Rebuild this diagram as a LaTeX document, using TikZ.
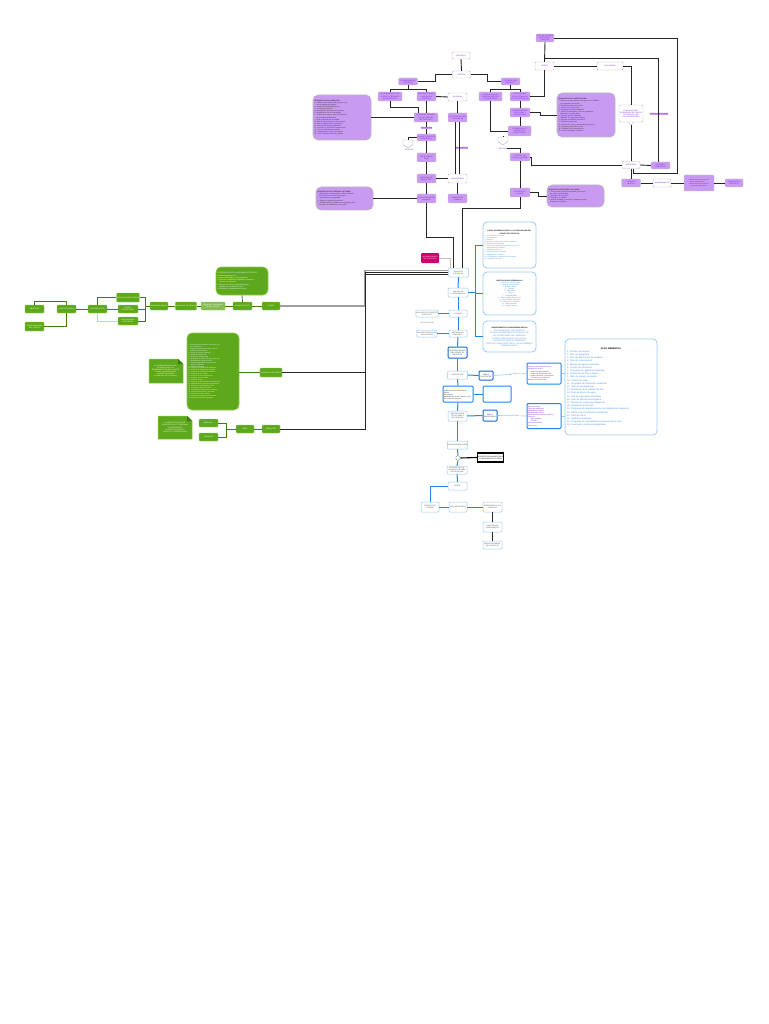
\documentclass[tikz,border=0pt]{standalone}
\usepackage{fontspec}
\setmainfont{Liberation Sans}
\usetikzlibrary{calc}
\definecolor{pfill}{HTML}{C99AF2}
\definecolor{ptext}{HTML}{7A1FD6}
\definecolor{gfill}{HTML}{5EA81C}
\definecolor{gbord}{HTML}{8CCB4E}
\definecolor{gline}{HTML}{3D7F0E}
\definecolor{blu}{HTML}{1E88F0}
\definecolor{lblu}{HTML}{9CCBF5}
\definecolor{dblu}{HTML}{1766D6}
\definecolor{mag}{HTML}{D0006A}
\definecolor{btext}{HTML}{4A90E2}
\newcommand{\fs}{\fontsize{1.7}{2.1}\selectfont}
\newcommand{\fss}{\fontsize{1.5}{1.95}\selectfont}
\newcommand{\fsb}{\fontsize{2.3}{3.2}\selectfont}
\newcommand{\bul}{\textbullet\ }
\tikzset{
  sz/.style 2 args={minimum width=#1pt,minimum height=#2pt},
  base/.style={inner sep=0.3pt,align=center,font=\fs,rounded corners=1pt},
  pb/.style={base,fill=pfill,draw=gray!45,line width=0.4pt,text=ptext},
  wb/.style={base,fill=white,draw=gray!55,line width=0.4pt,text=ptext},
  gb/.style={base,fill=gfill,draw=gbord,line width=0.4pt,text=white},
  bb/.style={base,fill=white,draw=lblu,line width=0.5pt,text=black!70},
  db/.style={base,fill=white,draw=dblu,line width=1pt,text=black!80},
  pn/.style={fill=pfill,draw=gray!55,line width=0.6pt,rounded corners=5pt,text=black!80,align=left,inner sep=1.5pt,font=\fs},
  gn/.style={fill=gfill,draw=gbord,line width=0.6pt,rounded corners=5pt,text=white,align=left,inner sep=1.5pt,font=\fs},
  bn/.style={fill=white,draw=lblu,line width=0.8pt,rounded corners=4pt,text=btext,align=left,inner sep=1.5pt,font=\fs},
  ln/.style={black!85,line width=0.9pt},
  gl/.style={gline,line width=0.8pt},
  bl/.style={blu,line width=1pt},
  lbl/.style={lblu,line width=0.6pt},
  lab/.style={font=\fs,text=ptext,inner sep=0.2pt}
}
\begin{document}
\begin{tikzpicture}[x=1pt,y=-1pt]
\useasboundingbox[fill=white] (0,0) rectangle (768,1024);

% ---------------- purple region ----------------
\node[wb,sz={18}{7}] (t1) at (461,55.5) {PROYECTO};
\node[wb,sz={18}{7}] (t2) at (461.5,74.5) {GESTIÓN};
\node[pb,sz={19}{7}] (L1) at (408,81.5) {PLANEACIÓN DEL\\PROYECTO};
\node[pb,sz={19}{7}] (R1) at (510.5,81.5) {EJECUCIÓN DEL\\PROYECTO};
\node[pb,sz={24}{9}] (L2a) at (390,96.5) {REQUERIMIENTOS DEL\\CLIENTE Y TÉRMINOS\\DE REFERENCIA};
\node[pb,sz={19}{9}] (L2b) at (426.5,96.5) {ESTUDIOS PREVIOS\\Y DISEÑO DEL\\PROYECTO};
\node[wb,sz={19}{8}] (M1) at (457.5,97) {LICITACIÓN};
\node[pb,sz={24}{9}] (L3) at (426,117.5) {PROGRAMA GENERAL\\DE ACTIVIDADES\\DEL PROYECTO};
\node[pb,sz={19}{9}] (M2) at (457.5,117.5) {CONTRATO DE OBRA\\Y GARANTÍAS};
\node[lab,fill=pfill] (lb1) at (426.5,128) {APROBACIÓN};
\node[pb,sz={19}{7}] (L4) at (426.5,137.5) {PLANOS EJECUTIVOS\\APROBADOS};
\node[pb,sz={19}{9}] (L5) at (426.5,157.5) {PRESUPUESTO\\BASE};
\node[pb,sz={19}{9}] (L6) at (426.5,178.5) {PROGRAMA DE\\SUMINISTROS};
\node[wb,sz={19}{9}] (M3) at (457.5,178.5) {PROVEEDORES};
\node[pb,sz={19}{9}] (L7) at (426.5,198.5) {PLAN DE RECURSOS\\HUMANOS};
\node[pb,sz={19}{9}] (M4) at (457.5,198.5) {ÓRDENES DE\\COMPRA};
\node[lab,fill=pfill] (lbM) at (462,148) {SEGUIMIENTO};

\node[pn,minimum width=58pt,minimum height=45pt,text width=55pt] (nL1) at (342,117.5) {{\bfseries REQUISITOS DE PLANEACIÓN:}\\
1. Definición del alcance del proyecto y de\\ \ \ \ los entregables principales\\
2. Estudio de factibilidad técnica\\
3. Cronograma general\\
4. Presupuesto preliminar del proyecto\\
5. Identificación de los interesados\\
6. Análisis de riesgos y plan de respuesta\\ \ \ \ a los riesgos identificados\\
7. Plan de gestión de la calidad\\
8. Plan de comunicaciones del proyecto\\
9. Plan de adquisiciones y contratos\\
10. Recursos humanos requeridos\\
11. Permisos y licencias de construcción\\
12. Control integrado de cambios\\
13. Seguimiento y control del avance\\
14. Cierre administrativo del proyecto};
\node[pn,minimum width=57pt,minimum height=23pt,text width=54pt] (nL2) at (344.5,198.5) {{\bfseries REQUISITOS DEL PERSONAL DE OBRA:}\\
1. Experiencia comprobable en obras similares\\ \ \ \ de acuerdo con el tipo de proyecto\\
2. Capacitación en seguridad\\
3. Equipo de protección personal\\
4. Contrato laboral y afiliación a seguridad social\\ \ \ \ de todos los trabajadores de la obra};

% shields
\draw[gray!60,fill=white,line width=0.4pt] (403,140)--(413,140)--(413,144.5)--(408,148)--(403,144.5)--cycle;
\coordinate (shL) at (408,140);
\node[lab] (lshL) at (409.5,150.2) {REVISIÓN};
\draw[gray!60,fill=white,line width=0.4pt] (498,137)--(508,137)--(508,141.5)--(503,145)--(498,141.5)--cycle;
\coordinate (shR) at (503,137);
\node[lab] (lshR) at (503,148.3) {REVISIÓN};

\node[pb,sz={23}{9}] (R2a) at (490.5,96.5) {CONTRATACIÓN DE\\SUBCONTRATISTAS\\Y PROVEEDORES};
\node[pb,sz={20}{9}] (R2b) at (520,96.5) {INICIO FORMAL\\DE LOS TRABAJOS\\DE CONSTRUCCIÓN};
\node[pb,sz={20}{9}] (R3) at (520,112.5) {ADMINISTRACIÓN\\DE LA OBRA Y\\SUPERVISIÓN};
\node[pb,sz={23}{10}] (R4) at (519.5,131) {ESTIMACIONES Y\\CONTROL DE\\AVANCE FÍSICO};
\node[pb,sz={20}{8}] (R5) at (520,157) {CONTROL DE\\CALIDAD DE OBRA};
\node[pb,sz={20}{9}] (R6) at (520,192.5) {ENTREGA DE\\LA OBRA};
\node[pn,minimum width=58pt,minimum height=44pt,text width=55pt] (nR1) at (586,115) {{\bfseries REQUISITOS DE CONSTRUCCIÓN:}\\
1. Bitácora de obra abierta y firmada por el residente\\ \ \ \ y el supervisor de la obra\\
2. Planos aprobados de la obra\\
3. Licencia de construcción\\
4. Programa de obra actualizado\\
5. Control de materiales y de sus pruebas de\\ \ \ \ laboratorio en cada etapa\\
6. Personal técnico calificado\\
7. Medidas de seguridad e higiene\\
8. Reportes semanales de avance\\
9. Estimaciones de obra\\
10. Control de costos y de cambios al proyecto\\
11. Limpieza general de la obra\\
12. Pruebas de las instalaciones\\
13. Acta de entrega y recepción};
\node[pn,minimum width=57pt,minimum height=22pt,text width=54pt] (nR2) at (575.5,196) {{\bfseries REQUISITOS DE ENTREGA DE OBRA:}\\
1. Planos finales de obra terminada y memorias\\ \ \ \ de cálculo actualizadas\\
2. Manuales de operación\\
3. Garantías de equipos\\
4. Acta de entrega y recepción y finiquito de obra\\ \ \ \ firmada por las partes};

\node[pb,sz={18}{8}] (T1) at (545,38) {ACTA DE ENTREGA\\RECEPCIÓN Y\\FINIQUITO};
\node[wb,sz={19}{8}] (T2) at (544.5,66) {CIERRE};
\node[wb,sz={26}{8}] (T3) at (610,66) {EVALUACIÓN};
\node[wb,sz={24}{17}] (cl) at (631,113.5) {EVALUACIÓN DEL\\DESEMPEÑO DEL EQUIPO\\DE TRABAJO Y DE\\LOS PROVEEDORES};
\draw[gray!55,fill=white,line width=0.4pt] ($(cl.south)+(-2.5,0)$) -- ($(cl.south)+(0,3)$) -- ($(cl.south)+(2.5,0)$);
\coordinate (clp) at ($(cl.south)+(0,3)$);
\node[wb,sz={18}{7}] (W5) at (631,165) {OPERACIÓN};
\node[pb,sz={19}{7}] (P6) at (660.5,165.5) {LECCIONES\\APRENDIDAS};
\node[pb,sz={19}{8}] (P7) at (631,183) {PUESTA EN\\MARCHA};
\node[wb,sz={18}{8}] (W8) at (662,183) {MANTENIMIENTO};
\node[pb,sz={30}{16},align=left] (P9) at (699,183) {\bul Mantenimiento preventivo\\ \ \ de las instalaciones\\\bul Mantenimiento correctivo\\ \ \ y reposición de equipos};
\node[pb,sz={18}{8}] (P10) at (734,183) {ARCHIVO DEL\\PROYECTO};
\node[lab,fill=pfill] (lbT) at (659,114) {RETROALIMENTACIÓN};

% purple connectors
\draw[ln] (t1.south) -- (t2.north);
\draw[ln] (t2.west) -- (435,74.5) |- (L1.east);
\draw[ln] (t2.east) -- (487,74.5) |- (R1.west);
\draw[ln] (L1.south) -- (408,89) -| (L2a.north);
\draw[ln] (408,89) -| (L2b.north);
\draw[ln] (R1.south) -- (510.5,89) -| (R2a.north);
\draw[ln] (510.5,89) -| (R2b.north);
\draw[ln] (L2b.east) -- (M1.west);
\draw[ln] (L2a.south) |- (418,107) -- (418,112.9);
\draw[ln] (L2b.south) -- (L2b.south |- L3.north);
\draw[ln] (nL1.east) -- (L3.west);
\draw[ln] (L3.south -| L4.north) -- (lb1.north);
\draw[ln] (lb1.south) -- (L4.north);
\draw[ln] (L4.west) -| (shL);
\draw[ln] (L4.south) -- (L5.north);
\draw[ln] (L5.south) -- (L6.north);
\draw[ln] (L6.south) -- (L7.north);
\draw[ln] (L6.east) -- (M3.west);
\draw[ln] (nL2.east) -- (L7.west);
\draw[ln] (M1.south) -- (M2.north);
\draw[ln] ([xshift=-2pt]M2.south) -- ([xshift=-2pt]M3.north);
\draw[ln] ([xshift=2pt]M2.south) -- ([xshift=2pt]M3.north);
\draw[ln] (M3.south) -- (M4.north);
\draw[ln] (R2b.south) -- (R3.north);
\draw[ln] (R3.south) -- (R4.north -| R3.south);
\draw[ln] (R3.east) -- ++(10,0) |- (nR1.west);
\draw[ln] (R2a.south) |- (R4.west);
\draw[ln] (R4.south -| shR) -- (shR);
\draw[ln] (lshR.east) -| (R5.north);
\draw[ln] (R5.south) -- (R6.north);
\draw[ln] (R6.east) -- ++(8,0) |- (nR2.west);
\draw[ln] (R2b.east) -| (T2.south);
\draw[ln] (T1.south) -- (T2.north);
\draw[ln] (T1.east) -| (677,173) -| ([xshift=2pt]W5.south);
\draw[ln] ($(T2.north)+(0,-3)$) -| ([xshift=-2.5pt]P6.north);
\draw[ln] (T2.east) -- (T3.west);
\draw[ln] (T3.east) -| (cl.north);
\draw[ln] (clp) -- (W5.north);
\draw[ln] (W5.east) -- (P6.west);
\draw[ln] (R5.east) -- ++(1,0) |- (W5.west);
\draw[ln] (W5.south) -- (P7.north);
\draw[ln] (P7.east) -- (W8.west);
\draw[ln] (W8.east) -- (P9.west);
\draw[ln] (P9.east) -- (P10.west);

% ---------------- hub ----------------
\node[bb,sz={20}{9}] (C) at (458.5,272.5) {PROYECTO\\EJECUTIVO};
\node[base,fill=mag,text=white,sz={18}{10}] (mag) at (430,258) {DOCUMENTACIÓN\\DEL PROYECTO};
\draw[ln] (L7.south) -- ++(0,34) -| ([xshift=-5.5pt]C.north);
\draw[ln] (R6.south) -- ++(0,11) -| ([xshift=3.5pt]C.north);
\draw[gray!50,line width=0.6pt] (mag.east) -| ([xshift=-8.5pt]C.north);

% ---------------- green region ----------------
\node[gb,sz={19}{8}] (G1) at (34.5,309) {OBJETIVOS};
\node[gb,sz={19}{8}] (G2) at (66.5,309) {PLAN DE TRABAJO};
\node[gb,sz={19}{9}] (G3) at (34.5,326.5) {REQUERIMIENTOS\\DEL CLIENTE};
\node[gb,sz={19}{8}] (G4) at (97.5,309) {ANTEPROYECTO};
\node[gb,sz={20}{9}] (G5a) at (128,297.5) {DISEÑO ARQUITECTÓNICO};
\node[gb,sz={20}{8}] (G5b) at (128,309) {DISEÑO\\ESTRUCTURAL};
\node[gb,sz={20}{8}] (G5c) at (128,321) {INSTALACIONES\\ELÉCTRICAS};
\node[gb,sz={18}{8}] (G6) at (159,306) {INGENIERÍA BÁSICA};
\node[gb,sz={18}{8}] (G7) at (186,306) {INGENIERÍA DE DETALLE};
\node[base,fill=gfill!75,draw=gbord,line width=0.4pt,text=white,sz={24}{8}] (G8) at (213,306) {REVISIÓN Y VALIDACIÓN\\DE LOS PLANOS};
\node[gb,sz={19}{8}] (G9) at (242.5,306) {PLANOS FINALES};
\node[gb,sz={18}{8}] (G10) at (271,306) {DISEÑO};
\node[gn,minimum width=52pt,minimum height=28pt,text width=49pt] (Gn1) at (242,281) {ENTREGABLES DE LA INGENIERÍA DE DETALLE:\\[0.6pt]
\bul Planos arquitectónicos\\
\bul Planos estructurales y de cimentación\\
\bul Planos de instalaciones hidráulicas, sanitarias\\ \ \ \ eléctricas y especiales\\
\bul Memorias de cálculo, especificaciones y\\ \ \ \ catálogo de conceptos de obra\\
\bul Presupuesto y programa de la obra};
\node[gn,font=\fss,minimum width=52pt,minimum height=77pt,text width=49pt] (Gbig) at (213,371.5) {
1. Levantamiento topográfico del terreno y de\\ \ \ \ sus colindancias\\
2. Estudio de mecánica de suelos y de las\\ \ \ \ condiciones del subsuelo\\
3. Estudio de impacto ambiental\\
4. Estudio de impacto vial\\
5. Dictamen de uso de suelo\\
6. Factibilidad de servicios de agua y drenaje\\
7. Factibilidad de energía eléctrica\\
8. Proyecto arquitectónico con planta de\\ \ \ \ conjunto y fachadas\\
9. Proyecto estructural\\
10. Proyecto de instalaciones hidráulicas\\
11. Proyecto de instalaciones sanitarias\\
12. Proyecto de instalaciones eléctricas\\
13. Proyecto de voz y datos\\
14. Proyecto de aire acondicionado\\
15. Proyecto contra incendio\\
16. Proyecto de gas\\
17. Proyecto de señalización y protección civil\\
18. Especificaciones generales y particulares\\
19. Catálogo de conceptos de la obra\\
20. Presupuesto base de la obra\\
21. Programa de ejecución de los trabajos\\
22. Memorias descriptivas y de cálculo\\
23. Análisis de precios unitarios\\
24. Licencias y permisos de construcción\\
25. Expediente técnico del proyecto};
\draw[fill=gfill,draw=gbord,line width=0.5pt] (149,359)--(178,359)--(183,364)--(183,383)--(149,383)--cycle;
\fill[gline] (178,359)--(183,364)--(178,364)--cycle;
\node[font=\fs,text=white,align=center] (Gd1) at (165.5,371) {EL DISEÑO SE REALIZA DE\\ACUERDO CON LOS\\REQUERIMIENTOS DEL CLIENTE\\Y CON LA NORMATIVIDAD\\VIGENTE APLICABLE\\A CADA UNA DE LAS ÁREAS};
\node[gb,sz={18}{9}] (G11) at (271,372.5) {ESTUDIOS Y PROYECTOS};
\draw[fill=gfill,draw=gbord,line width=0.5pt] (158,416)--(187,416)--(192,421)--(192,439)--(158,439)--cycle;
\fill[gline] (187,416)--(192,421)--(187,421)--cycle;
\node[font=\fs,text=white,align=center] (Gd2) at (175,427.5) {LA OBRA SE REALIZA DE\\ACUERDO CON EL PROGRAMA\\Y PRESUPUESTO\\AUTORIZADOS POR EL\\CLIENTE Y LA SUPERVISIÓN};
\node[gb,sz={19}{8}] (G12) at (208.5,423) {OBRA CIVIL};
\node[gb,sz={19}{8}] (G13) at (208.5,437) {ACABADOS};
\node[gb,sz={18}{8}] (G14) at (245,429) {OBRA};
\node[gb,sz={18}{8}] (G15) at (271,429) {EJECUCIÓN};

\draw[gl] (G1.north) -- (34.5,301.7) -| (G2.north);
\draw[gl] (G2.south) |- (G3.east);
\draw[gl] (G2.east) -- (G4.west);
\draw[gl] (G4.north) |- (G5a.west);
\draw[gl] (G4.east) -- (G5b.west);
\draw[gbord!60,line width=0.8pt] (G4.south) |- (G5c.west);
\draw[gl] (G5a.east) -| (145,306);
\draw[gl] (G5b.east) -- (145,309);
\draw[gl] (G5c.east) -| (145,306) -- (G6.west);
\draw[gl] (G6.east) -- (G7.west);
\draw[gl] (G7.east) -- (G8.west);
\draw[gl] (G8.east) -- (G9.west);
\draw[gl] (G9.east) -- (G10.west);
\draw[gl] (G9.north) -- (Gn1.south);
\draw[gl] (Gbig.east |- G11.west) -- (G11.west);
\draw[gl] (G12.east) -| (226.7,429) -- (G14.west);
\draw[gl] (G13.east) -| (226.7,429);
\draw[gl] (G14.east) -- (G15.west);

% green to hub
\draw[gray!75,line width=1.2pt] ([yshift=2.2pt]C.west) -- (365,270.3) |- (G10.east);
\draw[ln] ([yshift=0.2pt]C.west) -- (365,272.3) |- (G11.east);
\draw[ln] ([yshift=-1.8pt]C.west) -- (365,274.3) |- (G15.east);

% ---------------- blue region ----------------
\node[bn,minimum width=53pt,minimum height=46pt,text width=50pt] (bx1) at (509.5,245) {\centering\textcolor{black}{\bfseries DATOS GENERALES PARA LA ACTUALIZACIÓN DEL PROYECTO EJECUTIVO}\par\raggedright
1. Localización del predio\\
2. Antecedentes\\
3. Objetivo\\
4. Alcance y metas del proyecto ejecutivo\\
5. Normatividad aplicable\\
6. Descripción general del proyecto y de sus\\ \ \ \ componentes principales\\
7. Relación de planos\\
8. Especificaciones técnicas\\
9. Catálogo de conceptos\\
10. Presupuesto actualizado del proyecto\\
11. Programa de obra};
\node[bn,minimum width=53pt,minimum height=43pt,text width=50pt,align=center] (bx2) at (509.5,293.5) {\textcolor{black}{\bfseries OBJETIVOS DEL DESARROLLO}\\
1.\ \ Mejorar la infraestructura\\
2.\ \ Ampliar la capacidad\\
3.\ \ Reducir costos\\
4.\ \ Calidad\\
5.\ \ Seguridad\\
6.\ \ Tiempo\\
7.\ \ Sustentabilidad\\
8.\ \ Funcionalidad del proyecto\\
9.\ \ Accesibilidad universal\\
10.\ \ Eficiencia energética\\
11.\ \ Mantenimiento\\
12.\ \ Imagen urbana};
\node[bn,minimum width=53pt,minimum height=31pt,text width=50pt,align=center] (bx3) at (509.5,336.5) {\textcolor{black}{\bfseries REQUERIMIENTOS DE INGENIERÍA BÁSICA}\\[0.5pt]
\fontsize{1.9}{2.6}\selectfont
LEVANTAMIENTO TOPOGRÁFICO\\
ESTUDIO DE MECÁNICA DE SUELOS Y DE\\ LAS CONDICIONES DEL SUBSUELO\\
ESTUDIO HIDROLÓGICO DE LA ZONA\\
ESTUDIO DE IMPACTO AMBIENTAL\\
PROYECTO ARQUITECTÓNICO Y DE INGENIERÍAS\\ ESPECIALIZADAS};
\node[bb,sz={20}{9}] (B2) at (458,292.5) {ANÁLISIS DE\\LA INFORMACIÓN};
\node[bb,sz={18}{7}] (B3) at (458,313.5) {ALCANCE};
\node[bb,sz={20}{7}] (B3L) at (427,313.5) {ALCANCE DEL PROYECTO\\EJECUTIVO};
\node[font=\fs,text=black!60] (lB3) at (427,323) {ACTUALIZACIÓN};
\node[bb,sz={20}{7}] (B3L2) at (427,333.5) {PROYECTO EJECUTIVO\\ACTUALIZADO};
\node[bb,sz={18}{7}] (B4) at (458,333.5) {ENTREGA DEL\\PROYECTO};
\node[db,sz={19}{11}] (B5) at (457.5,352.5) {REVISIÓN TÉCNICA\\DEL PROYECTO\\EJECUTIVO};
\node[bb,sz={20}{8}] (B6) at (457.5,375) {VERIFICACIÓN};
\node[db,sz={14}{9}] (B6R) at (486,375.5) {OBRAS\\EXISTENTES};
\node[db,draw=blu,align=left,text=ptext,sz={34}{21},text width=32pt] (P1) at (544,373.5) {Inventario de la infraestructura\\ existente en el sitio\\ \ \ \ · Redes de agua potable\\ \ \ \ · Redes de drenaje sanitario\\ \ \ \ · Redes eléctricas y alumbrado\\ \ \ \ · Pavimentos y banquetas\\Estado de conservación};
\node[db,draw=blu,align=left,sz={30}{16},text width=28pt] (B7) at (458,394) {\centering\textcolor{yellow!85!orange}{OBJETIVOS}\par\raggedright
Definición de las acciones de mejora\\ del proyecto\\
Actualización de los alcances y de\\ las metas del proyecto};
\node[db,draw=blu,sz={28}{16}] (B7R) at (497,394) {};
\node[bb,sz={19}{10}] (B8) at (457.5,416) {IDENTIFICACIÓN\\DE LAS ÁREAS\\DE ATENCIÓN};
\node[db,sz={14}{11}] (B8R) at (490,415.5) {ÁREAS\\PRIORITARIAS};
\node[db,draw=blu,align=left,text=ptext,sz={34}{25},text width=32pt] (P2) at (544,416) {Zonas de riesgo\\Zonas de inundación\\Vialidades principales\\Equipamiento urbano\\Áreas verdes y espacios públicos\\Servicios:\\ \ \ \ · Agua potable\\ \ \ \ · Drenaje\\Alumbrado público\\Pavimentos};
\node[bn,minimum width=92pt,minimum height=96pt,text width=88pt,font=\fsb,align=left] (big) at (611,387) {\centering\textcolor{black}{\bfseries PLAN AMBIENTAL}\par\raggedright
1. Estudio de impacto\\
2. Plan de mitigación\\
3. Plan de disposición de residuos\\
4. Plan de reforestación\\
5. Manejo de aguas residuales\\
6. Control de emisiones\\
7. Programa de vigilancia ambiental\\
8. Protección de flora y fauna\\
9. Plan de manejo de suelos\\
10. Control de ruido\\
11. Programa de educación ambiental\\
12. Plan de contingencias\\
13. Monitoreo de la calidad del aire\\
14. Plan de ahorro de agua\\
15. Uso de materiales reciclados\\
16. Plan de eficiencia energética\\
17. Manejo de sustancias peligrosas\\
18. Restauración del sitio\\
19. Programa de seguimiento de las medidas de mitigación\\
20. Informe de cumplimiento ambiental\\
21. Plan de cierre\\
22. Auditoría ambiental\\
23. Programa de capacitación al personal de la obra\\
24. Licencias y permisos ambientales};
\node[bb,sz={19}{8}] (B9) at (457.5,445) {SUPERVISIÓN DE OBRA};
\node[circle,draw=gray!70,fill=white,line width=0.5pt,minimum size=4.5pt,inner sep=0pt] (circ) at (458,458) {};
\node[base,fill=white,draw=black,line width=1.1pt,text=black,sz={25}{9},rounded corners=0pt] (blk) at (490.5,457.5) {REPORTES DE AVANCE FÍSICO\\Y FINANCIERO DE LA OBRA};
\node[bb,sz={20}{8}] (B10) at (457,470) {CONTROL DE LOS\\TRABAJOS DE OBRA\\EN EJECUCIÓN};
\node[bb,sz={19}{8}] (B11) at (457.5,486) {CIERRE};
\node[bb,sz={18}{10}] (B12a) at (430,507) {FINIQUITO DE\\LA OBRA};
\node[bb,sz={18}{10}] (B12b) at (458,507) {ACTA DE ENTREGA};
\node[bb,sz={19}{10}] (B12c) at (492.5,507) {RECEPCIÓN DE LOS\\TRABAJOS};
\node[bb,sz={19}{10}] (B13) at (492.5,527) {GARANTÍA DE\\CUMPLIMIENTO};
\node[bb,sz={19}{8}] (B14) at (492.5,545) {ARCHIVO GENERAL\\DEL PROYECTO};

% blue connectors
\draw[bl] (C.south) -- (B2.north);
\draw[bl] (B2.east) -- ++(7,0) |- (bx1.west);
\draw[bl] (B2.east) -- ++(7,0) |- (bx2.west);
\draw[bl] (B2.east) -- ++(7,0) |- (bx3.west);
\draw[bl] (B2.south) -- (B3.north);
\draw[bl] (B3.west) -- (B3L.east);
\draw[bl] (B3.south) -- (B4.north);
\draw[bl] (B3L2.east) -- (B4.west);
\draw[bl] (B4.south) -- (B5.north);
\draw[bl] (B5.south) -- (B6.north);
\draw[bl] (B6.east) -- (B6R.west);
\draw[lbl] (B6R.east) -- (P1.west) node[pos=0.7,fill=white,font=\fs,text=gray,inner sep=0.3pt] {ANÁLISIS};
\draw[lbl] (P1.east) -- (P1.east -| big.west);
\draw[bl] (B6.south) -- (B7.north);
\draw[bl] (B7.east) -- (B7R.west);
\draw[bl] (B7.south) -- (B8.north);
\draw[bl] (B8.east) -- (B8R.west);
\draw[lbl] (B8R.east) -- (P2.west) node[pos=0.65,fill=white,font=\fs,text=gray,inner sep=0.3pt] {ZONAS};
\draw[lbl] (P2.east) -- (P2.east -| big.west);
\draw[bl] (B8.south) -- (B9.north);
\draw[bl] (B9.south) -- (circ.north);
\draw[black,line width=1.1pt] (circ.east) -- (blk.west);
\draw[bl] (circ.south) -- (B10.north);
\draw[bl] (B10.south) -- (B11.north);
\draw[bl] (B11.west) -| (B12a.north);
\draw[bl] (B12a.east) -- (B12b.west);
\draw[bl] (B12b.east) -- (B12c.west);
\draw[ln] (B12c.south) -- (B13.north);
\draw[ln] (B13.south) -- (B14.north);
\end{tikzpicture}
\end{document}
